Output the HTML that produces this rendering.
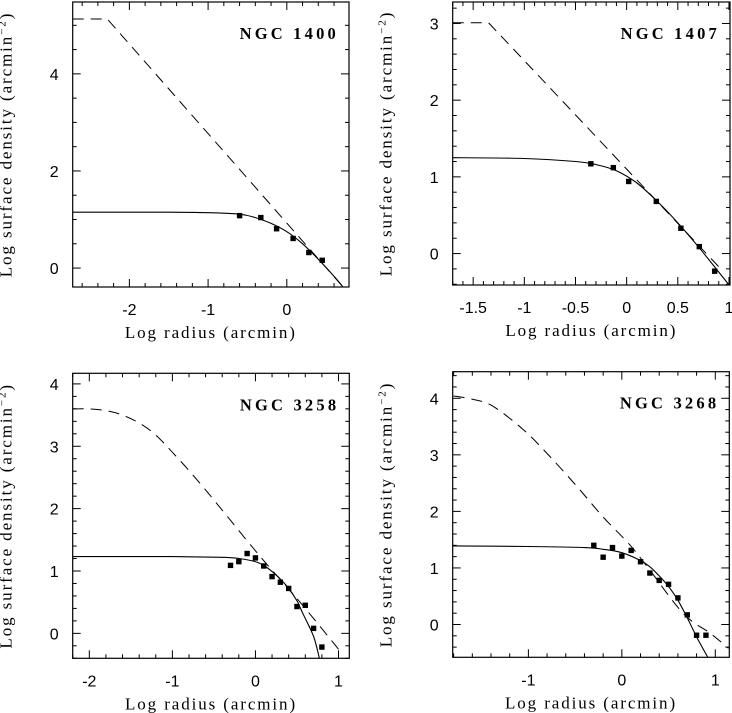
<!DOCTYPE html>
<html><head><meta charset="utf-8"><style>
body{margin:0;background:#fff}
svg{display:block}
text{fill:#000}
.tk{font-family:"Liberation Sans",sans-serif;font-size:16px}
.ti{font-family:"Liberation Serif",serif;font-size:17px;letter-spacing:1.9px}
.nm{font-family:"Liberation Serif",serif;font-size:16.5px;font-weight:bold;letter-spacing:3.2px}
</style></head><body>
<svg id="chart" width="732" height="713" viewBox="0 0 732 713"></svg>
<script>
// Panel 1: NGC 1400
const p1PtX=[-0.60,-0.33,-0.13,0.08,0.28,0.45];
const p1PtY=[1.08,1.04,0.81,0.61,0.32,0.16];
const p1SolX=[-2.72,-1.5,-1,-0.6,-0.4,-0.2,0,0.2,0.4,0.6,0.72];
const p1SolY=[1.15,1.15,1.14,1.11,1.04,0.92,0.75,0.50,0.18,-0.17,-0.40];
const p1DashX=[-2.72,-2.28,0.72];
const p1DashY=[5.13,5.13,-0.40];
const p1XTicks=[-2,-1,0];
const p1YTicks=[0,2,4];
// Panel 2: NGC 1407
const p2PtX=[-0.35,-0.13,0.02,0.29,0.53,0.71,0.86];
const p2PtY=[1.17,1.12,0.94,0.68,0.33,0.09,-0.23];
const p2SolX=[-1.7,-1,-0.5,-0.3,-0.1,0.1,0.3,0.5,0.7,0.9,1.0];
const p2SolY=[1.25,1.24,1.2,1.16,1.08,0.92,0.68,0.40,0.09,-0.24,-0.41];
const p2DashX=[-1.7,-1.35,0.92];
const p2DashY=[3.01,3.01,-0.2];
const p2XTicks=[-1.5,-1,-0.5,0,0.5,1];
const p2YTicks=[0,1,2,3];
// Panel 3: NGC 3258
const p3PtX=[-0.3,-0.2,-0.1,0,0.1,0.2,0.3,0.4,0.5,0.6,0.7,0.8];
const p3PtY=[1.09,1.15,1.28,1.21,1.08,0.91,0.82,0.72,0.43,0.45,0.08,-0.22];
const p3SolX=[-2.2,-1,-0.4,-0.2,0,0.1,0.2,0.3,0.4,0.5,0.57,0.7,0.77];
const p3SolY=[1.23,1.23,1.22,1.20,1.15,1.09,0.99,0.87,0.72,0.52,0.32,-0.05,-0.40];
const p3DashX=[-2.2,-1.9,-1.6,-1.27,-0.97,-0.67,-0.39,-0.11,0.13,0.4,0.65,1.01];
const p3DashY=[3.60,3.59,3.50,3.26,2.86,2.41,1.96,1.50,1.12,0.71,0.32,-0.27];
const p3XTicks=[-2,-1,0,1];
const p3YTicks=[0,1,2,3,4];
// Panel 4: NGC 3268
const p4PtX=[-0.3,-0.2,-0.1,0,0.1,0.2,0.3,0.4,0.5,0.6,0.7,0.8,0.9];
const p4PtY=[1.40,1.19,1.36,1.21,1.31,1.11,0.91,0.78,0.71,0.47,0.17,-0.19,-0.19];
const p4SolX=[-1.81,-1,-0.4,-0.2,0,0.2,0.3,0.4,0.5,0.6,0.7,0.8,0.92];
const p4SolY=[1.39,1.38,1.36,1.33,1.27,1.13,1.02,0.86,0.67,0.43,0.12,-0.22,-0.58];
const p4DashX=[-1.80,-1.59,-1.38,-1.05,-0.77,-0.48,-0.20,0.09,0.30,0.66,0.95,1.14];
const p4DashY=[4.04,3.98,3.86,3.44,2.97,2.44,1.90,1.40,0.96,0.19,-0.16,-0.42];
const p4XTicks=[-1,0,1];
const p4YTicks=[0,1,2,3,4];

const NS="http://www.w3.org/2000/svg";
const svg=document.getElementById('chart');
function mk(tag,attrs,parent){const e=document.createElementNS(NS,tag);for(const k in attrs)e.setAttribute(k,attrs[k]);(parent||svg).appendChild(e);return e;}
function pathD(P,smooth){
  let d='M'+P[0][0].toFixed(1)+','+P[0][1].toFixed(1);
  for(let i=0;i<P.length-1;i++){
    const p0=P[Math.max(0,i-1)],p1=P[i],p2=P[i+1],p3=P[Math.min(P.length-1,i+2)];
    if(!smooth){d+=' L'+p2[0].toFixed(1)+','+p2[1].toFixed(1);continue;}
    const c1=[p1[0]+(p2[0]-p0[0])/6,p1[1]+(p2[1]-p0[1])/6];
    const c2=[p2[0]-(p3[0]-p1[0])/6,p2[1]-(p3[1]-p1[1])/6];
    d+=' C'+c1.map(v=>v.toFixed(1)).join(',')+' '+c2.map(v=>v.toFixed(1)).join(',')+' '+p2[0].toFixed(1)+','+p2[1].toFixed(1);
  }
  return d;
}
function panel(id,cfg){
  const g=mk('g',{});
  
  
  const {L,R,T,B,x0,x1,y0,y1}=cfg;
  const sx=v=>L+(v-x0)/(x1-x0)*(R-L);
  const sy=v=>B-(v-y0)/(y1-y0)*(B-T);
  const cp=mk('clipPath',{id:'clip-'+id},g);
  mk('rect',{x:L,y:T,width:R-L,height:B-T},cp);
  const tg=mk('g',{stroke:'#000','stroke-width':1},g);
  
  
  const eps=1e-6;
  for(let v=Math.ceil(x0/cfg.xm-eps)*cfg.xm;v<=x1+eps;v+=cfg.xm){
    const major=Math.abs(v/cfg.xM-Math.round(v/cfg.xM))<1e-3;const len=major?8:4;const X=sx(v);
    mk('line',{x1:X,y1:B,x2:X,y2:B-len},tg);mk('line',{x1:X,y1:T,x2:X,y2:T+len},tg);
  }
  for(let v=Math.ceil(y0/cfg.ym-eps)*cfg.ym;v<=y1+eps;v+=cfg.ym){
    const major=Math.abs(v/cfg.yM-Math.round(v/cfg.yM))<1e-3;const len=major?8:4;const Y=sy(v);
    mk('line',{x1:L,y1:Y,x2:L+len,y2:Y},tg);mk('line',{x1:R,y1:Y,x2:R-len,y2:Y},tg);
  }
  const box=mk('rect',{x:L,y:T,width:R-L,height:B-T,fill:'none',stroke:'#000','stroke-width':1.2},g);
  
  
  cfg.xt.forEach(v=>{const t=mk('text',{x:sx(v),y:B+28,'text-anchor':'middle',class:'tk'},g);t.textContent=String(v);
    
    });
  cfg.yt.forEach(v=>{const t=mk('text',{x:L-14,y:sy(v)+6,'text-anchor':'end',class:'tk'},g);t.textContent=String(v);
    
    });
  const xt=mk('text',{x:(L+R)/2,y:B+51,'text-anchor':'middle',class:'ti'},g);xt.textContent='Log radius (arcmin)';
  
  
  const yx=L-61,yy=(T+B)/2;
  const yt=mk('text',{x:yx,y:yy,'text-anchor':'middle',class:'ti',transform:`rotate(-90 ${yx} ${yy})`},g);
  yt.innerHTML='Log surface density (arcmin<tspan dy="-6" font-size="11">−2</tspan><tspan dy="6">)</tspan>';
  
  
  const nm=mk('text',{x:R-10,y:T+37,'text-anchor':'end',class:'nm'},g);nm.textContent=cfg.name;
  
  
  const cg=mk('g',{'clip-path':`url(#clip-${id})`},g);
  const P=(xs,ys)=>xs.map((x,i)=>[sx(x),sy(ys[i])]);
  const dl=mk('path',{d:pathD(P(cfg.dx,cfg.dy),cfg.dsm),fill:'none',stroke:'#000','stroke-width':1,'stroke-dasharray':'11 7'},cg);
  
  
  const sl=mk('path',{d:pathD(P(cfg.sxs,cfg.sys),true),fill:'none',stroke:'#000','stroke-width':1.1},cg);
  
  
  cfg.px.forEach((x,i)=>{const r=mk('rect',{x:sx(x)-2.7,y:sy(cfg.py[i])-2.7,width:5.4,height:5.4,fill:'#000'},cg);
    
    });
}
panel('panel-ngc1400',{name:'NGC 1400',L:72.7,R:349,T:2,B:287,x0:-2.72,x1:0.79,y0:-0.39,y1:5.48,xm:0.2,xM:1,ym:0.5,yM:2,xt:p1XTicks,yt:p1YTicks,px:p1PtX,py:p1PtY,sxs:p1SolX,sys:p1SolY,dx:p1DashX,dy:p1DashY,dsm:false});
panel('panel-ngc1407',{name:'NGC 1407',L:452.7,R:730,T:2,B:285,x0:-1.70,x1:1.01,y0:-0.41,y1:3.28,xm:0.1,xM:0.5,ym:0.2,yM:1,xt:p2XTicks,yt:p2YTicks,px:p2PtX,py:p2PtY,sxs:p2SolX,sys:p2SolY,dx:p2DashX,dy:p2DashY,dsm:false});
panel('panel-ngc3258',{name:'NGC 3258',L:72.7,R:349.3,T:373.3,B:658.3,x0:-2.2,x1:1.13,y0:-0.40,y1:4.17,xm:0.2,xM:1,ym:0.2,yM:1,xt:p3XTicks,yt:p3YTicks,px:p3PtX,py:p3PtY,sxs:p3SolX,sys:p3SolY,dx:p3DashX,dy:p3DashY,dsm:true});
panel('panel-ngc3268',{name:'NGC 3268',L:452.7,R:729.3,T:371.7,B:657.3,x0:-1.81,x1:1.15,y0:-0.58,y1:4.47,xm:0.2,xM:1,ym:0.2,yM:1,xt:p4XTicks,yt:p4YTicks,px:p4PtX,py:p4PtY,sxs:p4SolX,sys:p4SolY,dx:p4DashX,dy:p4DashY,dsm:true});
</script>
</body></html>
